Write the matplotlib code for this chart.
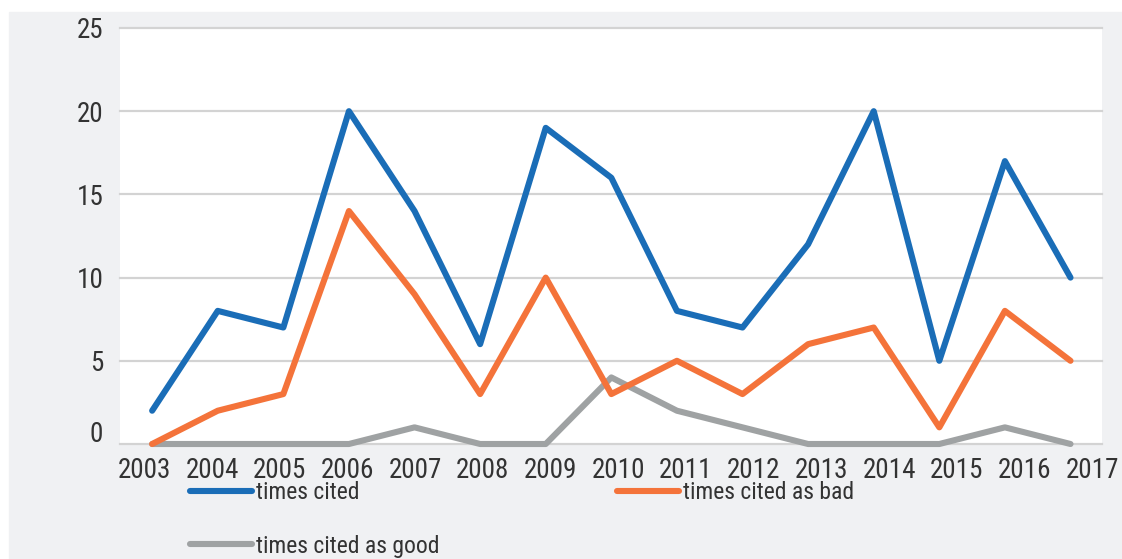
import numpy as np
import matplotlib.pyplot as plt
from matplotlib import font_manager
from matplotlib.patches import Rectangle
from matplotlib.transforms import ScaledTranslation

years = ["2003", "2004", "2005", "2006", "2007", "2008", "2009", "2010",
         "2011", "2012", "2013", "2014", "2015", "2016", "2017"]
times_cited = [2, 8, 7, 20, 14, 6, 19, 16, 8, 7, 12, 20, 5, 17, 10]
cited_bad = [0, 2, 3, 14, 9, 3, 10, 3, 5, 3, 6, 7, 1, 8, 5]
cited_good = [0, 0, 0, 0, 1, 0, 0, 4, 2, 1, 0, 0, 0, 1, 0]
y_ticks = [0, 5, 10, 15, 20, 25]

BLUE = "#1a6db7"
ORANGE = "#f4733a"
GREY = "#9fa2a3"
PANEL = "#f0f1f3"
TEXT = "#333333"

# prefer a narrow face if one is around
installed = {f.name for f in font_manager.fontManager.ttflist}
narrow = [n for n in ["Liberation Sans Narrow", "Roboto Condensed", "Arial Narrow"]
          if n in installed]
if narrow:
    family, tick_size, leg_size, weight = narrow[0], 19.5, 17, "normal"
else:
    family, tick_size, leg_size, weight = "Roboto", 17, 15, "light"
plt.rcParams["font.family"] = [family, "DejaVu Sans"]
plt.rcParams["font.weight"] = weight

fig = plt.figure(figsize=(11.22, 5.59), dpi=100, facecolor="white")
fig.patches.append(Rectangle((9 / 1122, 0), 1, 1 - 12 / 559,
                             transform=fig.transFigure, color=PANEL, zorder=-5))

ax = fig.add_axes([120 / 1122, 115 / 559, 982 / 1122, 416 / 559])
ax.set_facecolor("white")

x = np.arange(len(years))
style = dict(linewidth=4.4, solid_capstyle="round", solid_joinstyle="round",
             clip_on=False, zorder=3)
l_good, = ax.plot(x, cited_good, color=GREY, label="times cited as good", **style)
l_bad, = ax.plot(x, cited_bad, color=ORANGE, label="times cited as bad", **style)
l_cited, = ax.plot(x, times_cited, color=BLUE, label="times cited", **style)

ax.set_xlim(-0.49, 14.48)
ax.set_ylim(0, 25)
ax.set_yticks(y_ticks)
for v in y_ticks:
    ax.axhline(v, color="#d3d3d3", linewidth=1.6, zorder=1, clip_on=False)

# year labels sit on their own slightly wider spacing
ax.set_xticks(np.linspace(-0.12, 14.33, len(years)))
ax.set_xticklabels(years)
ax.tick_params(axis="both", labelsize=tick_size, length=0, colors=TEXT)
ax.tick_params(axis="x", pad=9)
ax.tick_params(axis="y", pad=12)
for s in ax.spines.values():
    s.set_visible(False)

# the zero label is lifted a little off the baseline
zero_lbl = ax.yaxis.get_major_ticks()[0].label1
zero_lbl.set_transform(zero_lbl.get_transform()
                       + ScaledTranslation(0, 12 / 100, fig.dpi_scale_trans))

fig.legend(handles=[l_cited, l_good, l_bad], loc="upper left",
           bbox_to_anchor=(190 / 1122, 1 - 481 / 559), ncol=2, frameon=False,
           fontsize=leg_size, borderaxespad=0, borderpad=0,
           handlelength=2.63, handletextpad=0.17, columnspacing=7.5,
           labelspacing=1.3, labelcolor=TEXT)

fig.savefig("out.png", dpi=100, facecolor=fig.get_facecolor())
